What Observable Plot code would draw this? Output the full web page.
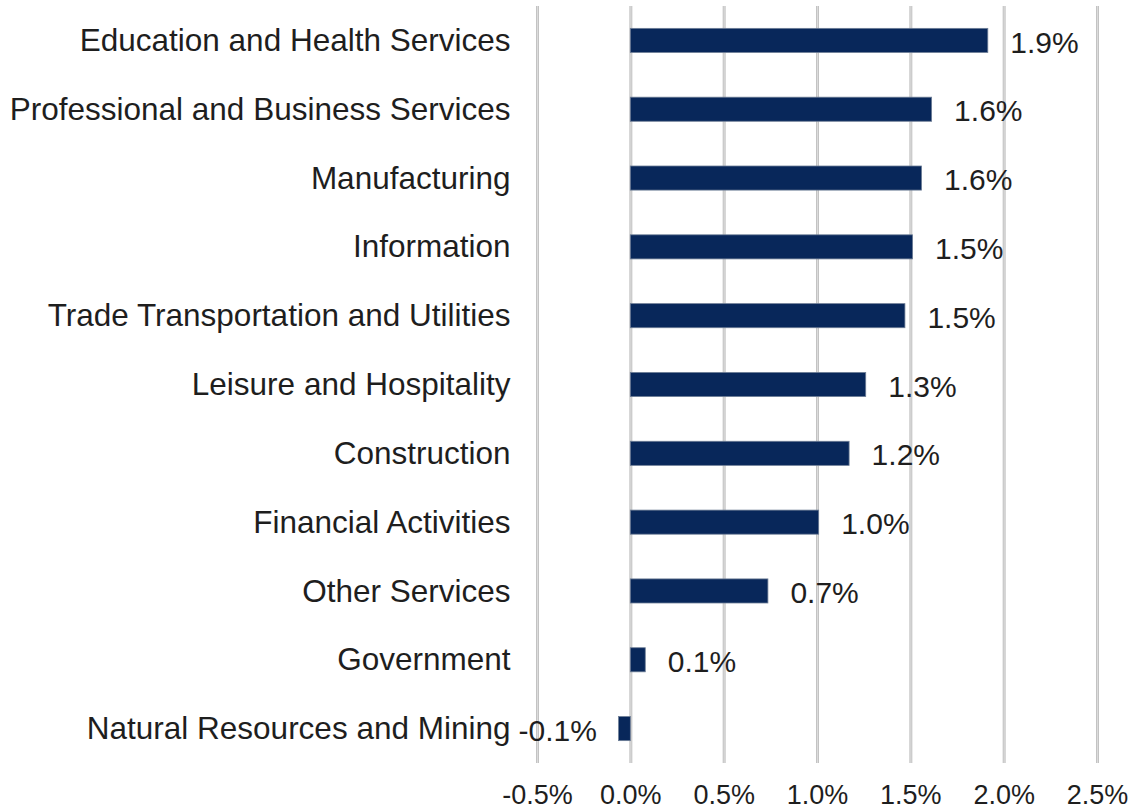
<!DOCTYPE html>
<html>
<head>
<meta charset="utf-8">
<script src="https://cdn.jsdelivr.net/npm/d3@7"></script>
<script src="https://cdn.jsdelivr.net/npm/@observablehq/plot@0.6"></script>
<style>
  html, body { margin: 0; padding: 0; background: #ffffff; }
  #chart svg { display: block; }
</style>
</head>
<body>
<div id="chart"></div>
<script>
const categories = [
  "Education and Health Services",
  "Professional and Business Services",
  "Manufacturing",
  "Information",
  "Trade Transportation and Utilities",
  "Leisure and Hospitality",
  "Construction",
  "Financial Activities",
  "Other Services",
  "Government",
  "Natural Resources and Mining"
];
const values = [1.915, 1.614, 1.56, 1.512, 1.471, 1.261, 1.172, 1.009, 0.737, 0.08, -0.063];
const valueLabels = ["1.9%", "1.6%", "1.6%", "1.5%", "1.5%", "1.3%", "1.2%", "1.0%", "0.7%", "0.1%", "-0.1%"];
const xTicks = [-0.5, 0, 0.5, 1.0, 1.5, 2.0, 2.5];
const xTickLabels = ["-0.5%", "0.0%", "0.5%", "1.0%", "1.5%", "2.0%", "2.5%"];

const data = categories.map((c, i) => ({category: c, value: values[i], label: valueLabels[i]}));

const chart = Plot.plot({
  width: 1135,
  height: 811,
  marginTop: 6,
  marginBottom: 48,
  marginLeft: 537,
  marginRight: 38,
  style: {fontFamily: "'Liberation Sans', Arial, sans-serif", background: "#ffffff", color: "#1e1e1e"},
  x: {domain: [-0.5, 2.5], label: null},
  y: {domain: categories, paddingInner: 0.65, paddingOuter: 0.325, round: false, label: null},
  marks: [
    Plot.ruleX(xTicks, {stroke: "#c3c3c3", strokeWidth: 3}),
    Plot.ruleX(xTicks, {stroke: "#dcdcdc", strokeWidth: 1}),
    Plot.barX(data, {y: "category", x: "value", fill: "#08275a", stroke: "#6d7d96", strokeWidth: 0.8}),
    Plot.text(data, {filter: d => d.value >= 0, y: "category", x: "value", text: "label", textAnchor: "start", dx: 22, dy: 2, fontSize: 30, fill: "#1e1e1e"}),
    Plot.text(data, {filter: d => d.value < 0, y: "category", x: 0, text: "label", textAnchor: "end", dx: -34, dy: 2, fontSize: 30, fill: "#1e1e1e"}),
    Plot.axisY({tickSize: 0, tickPadding: 27, fontSize: 31.5, label: null}),
    Plot.axisX({ticks: xTicks, tickFormat: (d) => xTickLabels[xTicks.indexOf(d)], tickSize: 0, tickPadding: 21, fontSize: 27, label: null})
  ]
});
document.getElementById("chart").appendChild(chart);
</script>
</body>
</html>
